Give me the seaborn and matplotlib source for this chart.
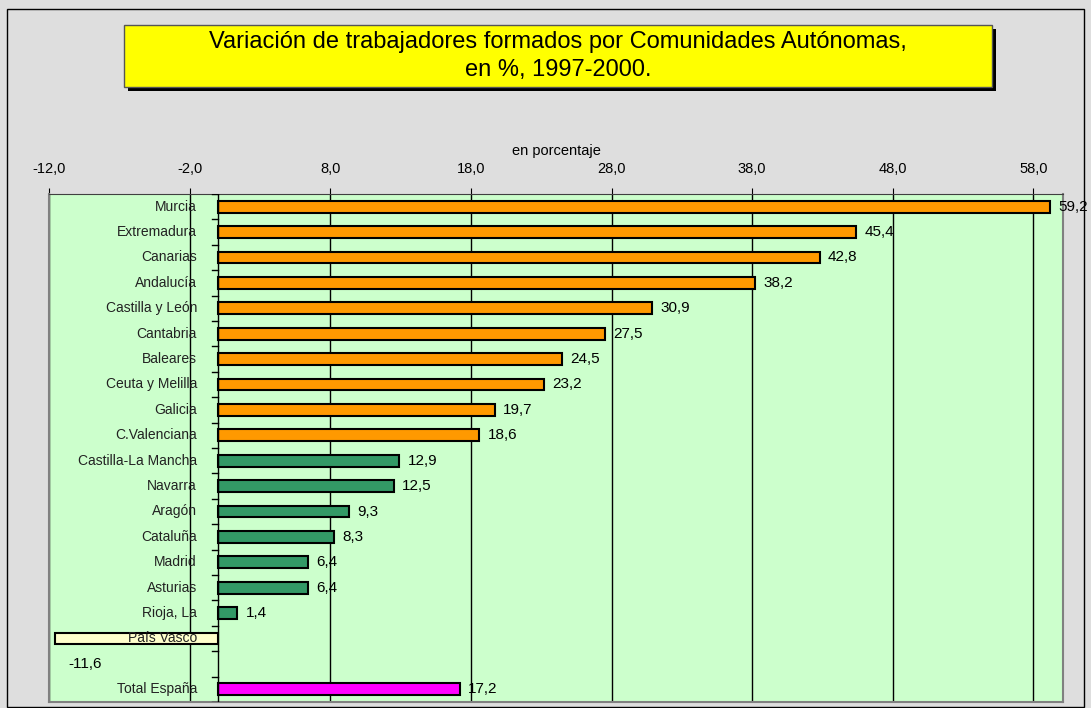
import numpy as np
import pandas as pd
import matplotlib
matplotlib.use("Agg")
import matplotlib.pyplot as plt
from matplotlib.patches import Rectangle
import seaborn as sns

# data
comunidades = ["Murcia", "Extremadura", "Canarias", "Andalucía", "Castilla y León",
               "Cantabria", "Baleares", "Ceuta y Melilla", "Galicia", "C.Valenciana",
               "Castilla-La Mancha", "Navarra", "Aragón", "Cataluña", "Madrid",
               "Asturias", "Rioja, La", "País Vasco", "Total España"]
variacion = [59.2, 45.4, 42.8, 38.2, 30.9, 27.5, 24.5, 23.2, 19.7, 18.6,
             12.9, 12.5, 9.3, 8.3, 6.4, 6.4, 1.4, -11.6, 17.2]
grupo = ["alto"] * 10 + ["medio"] * 7 + ["negativo"] + ["total"]
colores_grupo = {"alto": "#FF9900", "medio": "#339966",
                 "negativo": "#FFFFCC", "total": "#FF00FF"}
orden = comunidades[:18] + [" "] + ["Total España"]
ticks_x = [-12, -2, 8, 18, 28, 38, 48, 58]

df = pd.DataFrame({"Comunidad": comunidades, "Variacion": variacion, "Grupo": grupo})
paleta = {c: colores_grupo[g] for c, g in zip(comunidades, grupo)}

plt.rcParams["font.family"] = ["Liberation Sans", "DejaVu Sans"]

W, H = 1091, 708
fig = plt.figure(figsize=(W / 100, H / 100), dpi=100)
fig.patch.set_facecolor("#DEDEDE")

def px(x0, y0, x1, y1):
    return (x0 / W, 1 - y1 / H, (x1 - x0) / W, (y1 - y0) / H)

# outer frame
l, b, w, h = px(7, 9, 1084, 707)
fig.patches.append(Rectangle((l, b), w, h, transform=fig.transFigure,
                             facecolor="none", edgecolor="black", lw=1))

ax = fig.add_axes(px(49, 194, 1063, 702))
ax.set_facecolor("#CCFFCC")

sns.barplot(data=df, y="Comunidad", x="Variacion", hue="Comunidad", order=orden,
            palette=paleta, saturation=1, orient="h", width=0.47, edgecolor="black",
            linewidth=1.5, legend=False, ax=ax, errorbar=None, zorder=3)

ax.set_xlim(-12, 60.1)
ax.set_ylim(19.5, -0.5)
ax.set_xticks(ticks_x)
ax.set_xticklabels([f"{t:.1f}".replace(".", ",") for t in ticks_x], fontsize=10.5)
ax.xaxis.tick_top()
ax.xaxis.set_label_position("top")
ax.set_xlabel("en porcentaje", fontsize=10.5, labelpad=5)
ax.set_ylabel("")
ax.tick_params(axis="x", length=4, pad=9, color="black")
ax.grid(axis="x", color="black", lw=1, zorder=1)
ax.set_yticks([])
for s in ["left", "right", "bottom"]:
    ax.spines[s].set_color("#808080")
    ax.spines[s].set_linewidth(1.5)
ax.spines["top"].set_color("#404040")

# zero axis with small tick marks between categories
ax.axvline(0, color="black", lw=1, zorder=4)
for k in range(21):
    ax.plot([-0.4, 0], [k - 0.5, k - 0.5], color="black", lw=1, zorder=4,
            clip_on=True)

# category names next to the zero axis
for i, c in enumerate(orden):
    if c.strip():
        ax.annotate(c, xy=(0, i), xytext=(-15, 0), textcoords="offset points",
                    ha="right", va="center", fontsize=10, color="#222222", zorder=5)

# value labels
for c, v in zip(comunidades, variacion):
    i = orden.index(c)
    txt = f"{v:.1f}".replace(".", ",")
    if v >= 0:
        ax.annotate(txt, xy=(v, i), xytext=(6, 0), textcoords="offset points",
                    ha="left", va="center", fontsize=11, annotation_clip=False,
                    zorder=5)
    else:
        ax.annotate(txt, xy=(-12, i + 1), xytext=(14, 0), textcoords="offset points",
                    ha="left", va="center", fontsize=11, zorder=5)

# title box with shadow
l, b, w, h = px(128, 29, 996, 91)
fig.patches.append(Rectangle((l, b), w, h, transform=fig.transFigure,
                             facecolor="black", edgecolor="none"))
l, b, w, h = px(124, 25, 992, 87)
fig.patches.append(Rectangle((l, b), w, h, transform=fig.transFigure,
                             facecolor="#FFFF00", edgecolor="#555555", lw=1))
fig.text(558 / W, 1 - 56 / H,
         "Variación de trabajadores formados por Comunidades Autónomas,\nen %, 1997-2000.",
         ha="center", va="center", fontsize=17, linespacing=1.3)

fig.savefig("out.png", dpi=100, facecolor=fig.get_facecolor())
